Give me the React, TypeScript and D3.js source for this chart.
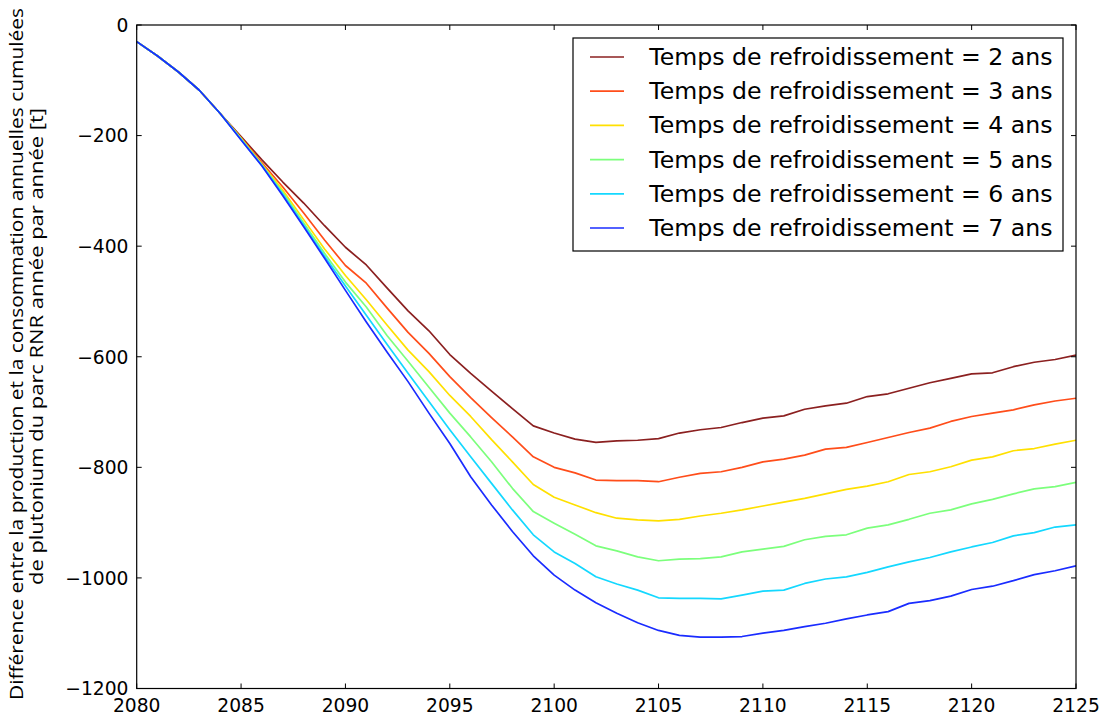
import React from "react";
import * as d3 from "d3";

const years: number[] = d3.range(2080, 2126);

const cool2: number[] = [-30, -56, -85, -118, -160, -202, -244, -284, -322, -363, -402, -434, -476, -517, -553, -596, -630, -662, -694, -725, -738, -749, -755, -752, -751, -748, -738, -732, -728, -719, -711, -707, -695, -689, -684, -672, -667, -657, -647, -639, -631, -629, -618, -610, -605, -597];
const cool3: number[] = [-30, -56, -85, -118, -160, -204, -249, -293, -340, -389, -435, -467, -512, -556, -594, -636, -674, -710, -745, -781, -800, -810, -823, -824, -824, -826, -818, -811, -808, -800, -790, -785, -778, -767, -764, -755, -746, -737, -729, -717, -708, -702, -696, -687, -680, -675];
const cool4: number[] = [-30, -56, -85, -118, -160, -205, -252, -299, -352, -405, -453, -497, -543, -588, -627, -670, -708, -750, -790, -831, -854, -868, -882, -892, -895, -897, -894, -888, -883, -877, -870, -863, -856, -848, -840, -834, -826, -813, -808, -799, -787, -781, -770, -766, -758, -751];
const cool5: number[] = [-30, -56, -85, -118, -160, -206, -253, -303, -358, -413, -465, -510, -562, -608, -655, -702, -745, -790, -838, -880, -901, -921, -942, -951, -962, -969, -966, -965, -962, -953, -948, -943, -931, -925, -922, -910, -904, -894, -883, -877, -866, -858, -848, -839, -835, -827];
const cool6: number[] = [-30, -56, -85, -118, -160, -207, -254, -306, -362, -418, -472, -525, -578, -630, -681, -732, -781, -829, -877, -922, -953, -974, -998, -1011, -1022, -1036, -1037, -1037, -1038, -1031, -1024, -1022, -1010, -1002, -998, -990, -980, -971, -963, -953, -944, -936, -924, -918, -908, -904];
const cool7: number[] = [-30, -56, -85, -118, -160, -208, -255, -309, -365, -422, -480, -537, -592, -645, -702, -757, -817, -868, -916, -960, -995, -1022, -1045, -1064, -1081, -1095, -1104, -1107, -1107, -1106, -1100, -1095, -1088, -1082, -1074, -1067, -1061, -1046, -1041, -1033, -1021, -1015, -1005, -994, -987, -978];

const seriesLabels: string[] = [
  "Temps de refroidissement = 2 ans",
  "Temps de refroidissement = 3 ans",
  "Temps de refroidissement = 4 ans",
  "Temps de refroidissement = 5 ans",
  "Temps de refroidissement = 6 ans",
  "Temps de refroidissement = 7 ans",
];
const seriesColors: string[] = ["#8b2020", "#ff4d1a", "#ffe000", "#7cff7c", "#14d8ff", "#1a2cff"];
const seriesValues: number[][] = [cool2, cool3, cool4, cool5, cool6, cool7];

const xTicks: number[] = [2080, 2085, 2090, 2095, 2100, 2105, 2110, 2115, 2120, 2125];
const yTicks: number[] = [0, -200, -400, -600, -800, -1000, -1200];

const yLabelLine1 = "Différence entre la production et la consommation annuelles cumulées";
const yLabelLine2 = "de plutonium du parc RNR année par année [t]";

const W = 1102;
const H = 715;
const L = 136.7;
const R = 1076;
const T = 25;
const B = 688.5;

export default function App() {
  const x = d3.scaleLinear().domain([2080, 2125]).range([L, R]);
  const y = d3.scaleLinear().domain([0, -1200]).range([T, B]);
  const line = d3
    .line<number>()
    .x((_, i) => x(years[i]))
    .y((d) => y(d));

  const tickFont = "DejaVu Sans, Bitstream Vera Sans, sans-serif";
  const tickSize = 18.7;
  const tickLen = 5;

  const legX = 573;
  const legY = 38;
  const legW = 490;
  const legH = 213;
  const rowY = (i: number) => 57 + i * 34.2;

  return (
    <svg
      width={W}
      height={H}
      viewBox={`0 0 ${W} ${H}`}
      style={{ position: "absolute", left: 0, top: 0, background: "#fff" }}
    >
      <rect x={0} y={0} width={W} height={H} fill="#fff" />
      <defs>
        <clipPath id="plotclip">
          <rect x={L} y={T} width={R - L} height={B - T} />
        </clipPath>
      </defs>

      {/* series */}
      <g clipPath="url(#plotclip)">
        {seriesValues.map((vals, i) => (
          <path
            key={i}
            d={line(vals) || ""}
            fill="none"
            stroke={seriesColors[i]}
            strokeWidth={1.7}
            strokeLinejoin="round"
          />
        ))}
      </g>

      {/* ticks */}
      <g stroke="#000" strokeWidth={1}>
        {xTicks.map((t) => (
          <g key={"xt" + t}>
            <line x1={x(t)} x2={x(t)} y1={B} y2={B - tickLen} />
            <line x1={x(t)} x2={x(t)} y1={T} y2={T + tickLen} />
          </g>
        ))}
        {yTicks.map((t) => (
          <g key={"yt" + t}>
            <line x1={L} x2={L + tickLen} y1={y(t)} y2={y(t)} />
            <line x1={R} x2={R - tickLen} y1={y(t)} y2={y(t)} />
          </g>
        ))}
      </g>

      {/* frame */}
      <rect x={L} y={T} width={R - L} height={B - T} fill="none" stroke="#000" strokeWidth={1.2} />

      {/* tick labels */}
      <g fontFamily={tickFont} fontSize={tickSize} fill="#000">
        {xTicks.map((t) => (
          <text key={"xl" + t} x={x(t)} y={711.5} textAnchor="middle">
            {String(t)}
          </text>
        ))}
        {yTicks.map((t) => (
          <text key={"yl" + t} x={128.5} y={y(t) + 6.8} textAnchor="end">
            {t === 0 ? "0" : "\u2212" + String(Math.abs(t))}
          </text>
        ))}
      </g>

      {/* y label */}
      <g fontFamily="Open Sans, Noto Sans, sans-serif" fontSize={18.5} fill="#000">
        <text
          transform={`translate(22.5, ${(700 + 8) / 2}) rotate(-90)`}
          textAnchor="middle"
          textLength={692}
          lengthAdjust="spacingAndGlyphs"
        >
          {yLabelLine1}
        </text>
        <text
          transform={`translate(43, ${(585 + 108) / 2}) rotate(-90)`}
          textAnchor="middle"
          textLength={477}
          lengthAdjust="spacingAndGlyphs"
        >
          {yLabelLine2}
        </text>
      </g>

      {/* legend */}
      <g>
        <rect x={legX} y={legY} width={legW} height={legH} fill="#fff" stroke="#000" strokeWidth={1.2} />
        {seriesLabels.map((lab, i) => (
          <g key={"lg" + i}>
            <line x1={590} x2={624} y1={rowY(i)} y2={rowY(i)} stroke={seriesColors[i]} strokeWidth={1.7} />
            <text x={649.3} y={rowY(i) + 8} fontFamily={tickFont} fontSize={23.6} fill="#000">
              {lab}
            </text>
          </g>
        ))}
      </g>
    </svg>
  );
}
